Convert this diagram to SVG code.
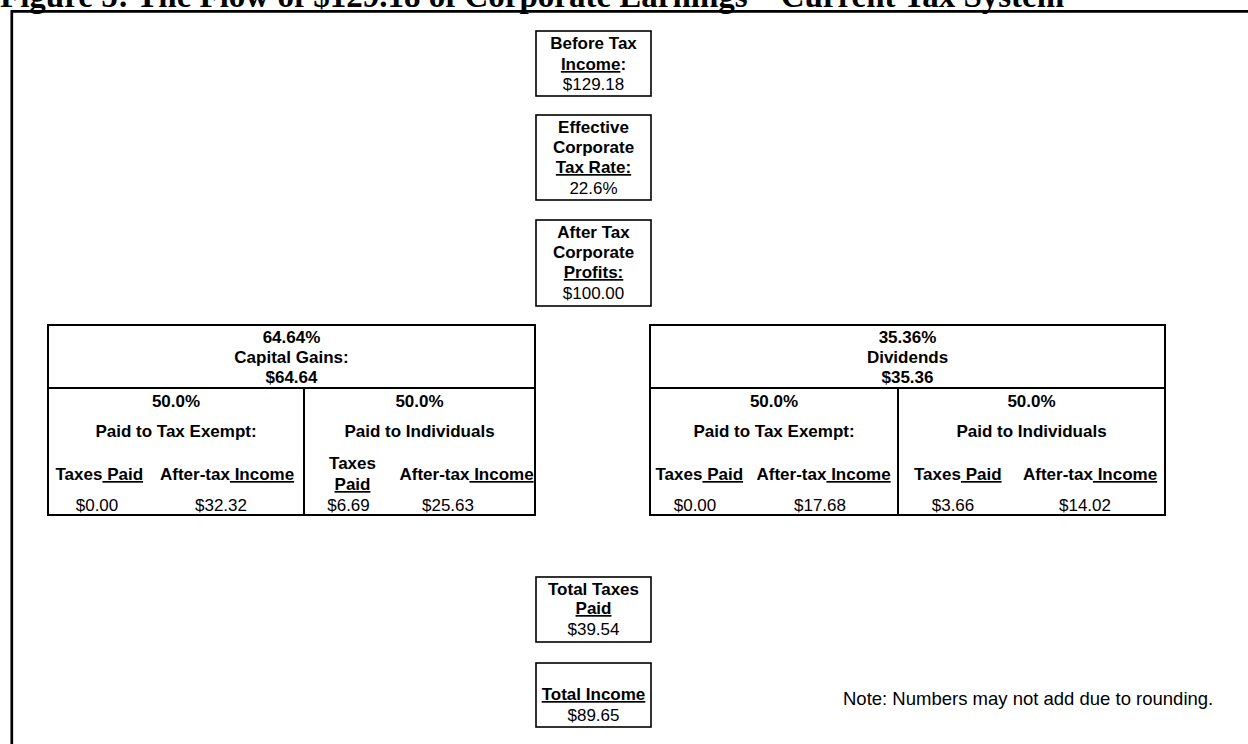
<svg xmlns="http://www.w3.org/2000/svg" width="1248" height="744" viewBox="0 0 1248 744">
<style>
text{font-family:"Liberation Sans",Arial,sans-serif;font-size:17px;fill:#000}
.b{font-weight:bold}
.c{text-anchor:middle}
.u{text-decoration:underline}
.box{fill:#fff;stroke:#000;stroke-width:1.6}
.tbl{fill:#fff;stroke:#000;stroke-width:2}
.ln{stroke:#000;stroke-width:2;fill:none}
.title{font-family:"Liberation Serif","Times New Roman",serif;font-weight:bold;font-size:33px}
.note{font-size:18.5px}
</style>
<rect width="1248" height="744" fill="#fff"/>
<text class="title" x="0" y="7">Figure 5: The Flow of $129.18 of Corporate Earnings – Current Tax System</text>
<path d="M11.8,744 V11.3 H1248" fill="none" stroke="#000" stroke-width="2.7"/>

<g id="before-tax-income">
<rect class="box" x="536" y="31" width="115" height="65"/>
<text class="b c" x="593.5" y="49">Before Tax</text>
<text class="b c" x="593.5" y="70"><tspan class="u">Income</tspan>:</text>
<text class="c" x="593.5" y="90">$129.18</text>
</g>

<g id="effective-tax-rate">
<rect class="box" x="536" y="115" width="115" height="85"/>
<text class="b c" x="593.5" y="133">Effective</text>
<text class="b c" x="593.5" y="153">Corporate</text>
<text class="b c u" x="593.5" y="173">Tax Rate:</text>
<text class="c" x="593.5" y="194">22.6%</text>
</g>

<g id="after-tax-profits">
<rect class="box" x="536" y="220" width="115" height="86"/>
<text class="b c" x="593.5" y="238">After Tax</text>
<text class="b c" x="593.5" y="258">Corporate</text>
<text class="b c u" x="593.5" y="278">Profits:</text>
<text class="c" x="593.5" y="299">$100.00</text>
</g>

<g id="capital-gains">
<rect class="tbl" x="48" y="325" width="487" height="190"/>
<path class="ln" d="M48,388 H535 M304,388 V515"/>
<text class="b c" x="291.5" y="343">64.64%</text>
<text class="b c" x="291.5" y="363">Capital Gains:</text>
<text class="b c" x="291.5" y="383">$64.64</text>
<text class="b c" x="176" y="407">50.0%</text>
<text class="b c" x="176" y="437">Paid to Tax Exempt:</text>
<text class="b" x="55.5" y="480">Taxes<tspan class="u"> Paid</tspan></text>
<text class="b" x="160" y="480">After-tax<tspan class="u"> Income</tspan></text>
<text class="c" x="97" y="511">$0.00</text>
<text class="c" x="221" y="511">$32.32</text>
<text class="b c" x="419.5" y="407">50.0%</text>
<text class="b c" x="419.5" y="437">Paid to Individuals</text>
<text class="b c" x="352.5" y="469">Taxes</text>
<text class="b c u" x="352.5" y="490">Paid</text>
<text class="b" x="399.5" y="480">After-tax<tspan class="u"> Income</tspan></text>
<text class="c" x="348.5" y="511">$6.69</text>
<text class="c" x="448" y="511">$25.63</text>
</g>

<g id="dividends">
<rect class="tbl" x="650" y="325" width="515" height="190"/>
<path class="ln" d="M650,388 H1165 M898,388 V515"/>
<text class="b c" x="907.5" y="343">35.36%</text>
<text class="b c" x="907.5" y="363">Dividends</text>
<text class="b c" x="907.5" y="383">$35.36</text>
<text class="b c" x="774" y="407">50.0%</text>
<text class="b c" x="774" y="437">Paid to Tax Exempt:</text>
<text class="b" x="655.5" y="480">Taxes<tspan class="u"> Paid</tspan></text>
<text class="b" x="756.5" y="480">After-tax<tspan class="u"> Income</tspan></text>
<text class="c" x="695" y="511">$0.00</text>
<text class="c" x="820" y="511">$17.68</text>
<text class="b c" x="1031.5" y="407">50.0%</text>
<text class="b c" x="1031.5" y="437">Paid to Individuals</text>
<text class="b" x="914" y="480">Taxes<tspan class="u"> Paid</tspan></text>
<text class="b" x="1023" y="480">After-tax<tspan class="u"> Income</tspan></text>
<text class="c" x="953" y="511">$3.66</text>
<text class="c" x="1085" y="511">$14.02</text>
</g>

<g id="total-taxes-paid">
<rect class="box" x="536" y="577" width="115" height="65"/>
<text class="b c" x="593.5" y="595">Total Taxes</text>
<text class="b c u" x="593.5" y="614">Paid</text>
<text class="c" x="593.5" y="635">$39.54</text>
</g>

<g id="total-income">
<rect class="box" x="536" y="663" width="115" height="64"/>
<text class="b c u" x="593.5" y="700">Total Income</text>
<text class="c" x="593.5" y="721">$89.65</text>
</g>

<g id="connectors"/>

<g id="note">
<text class="note" x="843" y="705">Note: Numbers may not add due to rounding.</text>
</g>
</svg>
